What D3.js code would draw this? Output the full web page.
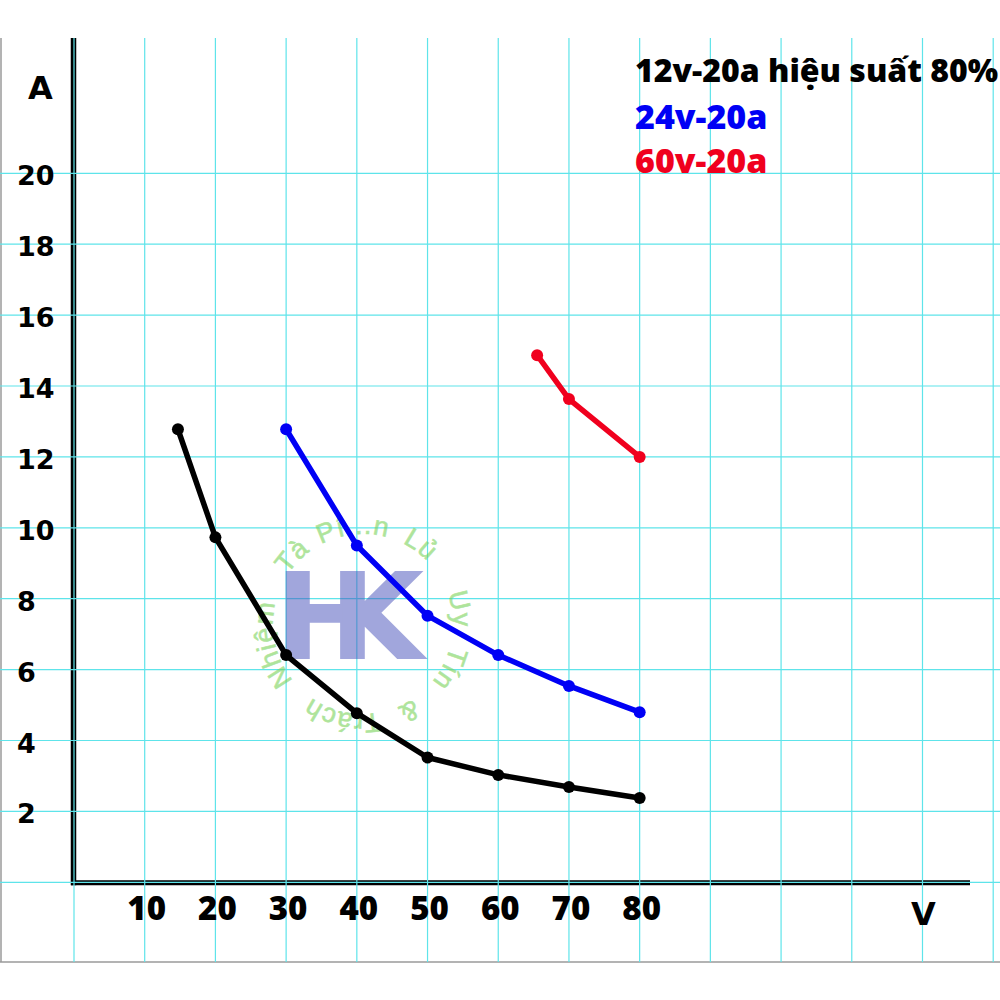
<!DOCTYPE html>
<html><head><meta charset="utf-8">
<script src="https://cdn.jsdelivr.net/npm/d3@7"></script>
<style>html,body{margin:0;padding:0;background:#fff;}svg{display:block;}</style>
</head><body>
<svg id="chart" width="1000" height="1000"></svg>
<script>
// ---- data ----
const xTicks = [10, 20, 30, 40, 50, 60, 70, 80];
const yTicks = [2, 4, 6, 8, 10, 12, 14, 16, 18, 20];
const xGrid = d3.range(0, 140, 10);
const seriesNames = ["12v-20a hiệu suất 80%", "24v-20a", "60v-20a"];
const seriesColors = ["#000000", "#0000f5", "#f0001e"];
const v12 = [14.7, 20, 30, 40, 50, 60, 70, 80];
const a12 = [12.78, 9.73, 6.41, 4.77, 3.52, 3.03, 2.69, 2.38];
const v24 = [30, 40, 50, 60, 70, 80];
const a24 = [12.78, 9.5, 7.52, 6.41, 5.54, 4.8];
const v60 = [65.5, 70, 80];
const a60 = [14.87, 13.63, 12.0];
const xLabel = "V", yLabel = "A";
const logoText = "HK";
const ringWords = [["Tà", -46], ["Pí...n", -6], ["Lủ", 36], ["Uy", 81], ["Tín", 117], ["&", 152], ["Trách", 192], ["Nhiệm", 257]];

const series = [[v12, a12], [v24, a24], [v60, a60]].map((s, i) => ({
  name: seriesNames[i], color: seriesColors[i],
  pts: s[0].map((v, j) => ({v, a: s[1][j]}))
}));

const svg = d3.select("#chart");
const x = d3.scaleLinear().domain([0, 130]).range([74, 993.2]);
const y = d3.scaleLinear().domain([0, 20]).range([882.3, 173.3]);
const gridTop = 38, gridBottom = 962;
const gridColor = "#5ee4ea";

// frame
svg.append("line").attr("x1", 1).attr("x2", 1).attr("y1", gridTop).attr("y2", gridBottom)
  .attr("stroke", "#9a9a9a").attr("stroke-width", 1.5);
svg.append("line").attr("x1", 0).attr("x2", 1000).attr("y1", gridBottom).attr("y2", gridBottom)
  .attr("stroke", "#9a9a9a").attr("stroke-width", 1.5);

// axes (thick black)
svg.append("line").attr("x1", x(0) - 0.5).attr("x2", x(0) - 0.5).attr("y1", gridTop).attr("y2", y(0) + 3)
  .attr("stroke", "#000").attr("stroke-width", 5.5);
svg.append("line").attr("x1", x(0) - 3).attr("x2", 970).attr("y1", y(0) + 0.5).attr("y2", y(0) + 0.5)
  .attr("stroke", "#000").attr("stroke-width", 5);

// grid
const g = svg.append("g");
g.selectAll("line.v").data(xGrid).join("line").attr("class", "v")
  .attr("x1", d => x(d)).attr("x2", d => x(d)).attr("y1", gridTop).attr("y2", gridBottom)
  .attr("stroke", gridColor).attr("stroke-width", 1.2);
g.selectAll("line.h").data([0].concat(yTicks)).join("line").attr("class", "h")
  .attr("x1", 0).attr("x2", 1000).attr("y1", d => y(d)).attr("y2", d => y(d))
  .attr("stroke", gridColor).attr("stroke-width", 1.2);

// watermark
const wm = svg.append("g");
const cx = 363, cy = 624, r = 90, startA = -70;
const rad = a => a * Math.PI / 180;
const p0 = [cx + r * Math.sin(rad(startA)), cy - r * Math.cos(rad(startA))];
const p1 = [cx - r * Math.sin(rad(startA)), cy + r * Math.cos(rad(startA))];
svg.append("defs").append("path").attr("id", "ring")
  .attr("d", `M${p0[0]},${p0[1]} A${r},${r} 0 1 1 ${p1[0]},${p1[1]} A${r},${r} 0 1 1 ${p0[0]},${p0[1]}`);
const circ = 2 * Math.PI * r;
const ring = wm.append("g").attr("opacity", 0.6);
ring.selectAll("text").data(ringWords).join("text")
  .attr("font-family", "'Liberation Sans', Arial, sans-serif").attr("font-size", 27)
  .attr("fill", "#7ad35a").attr("stroke", "#7ad35a").attr("stroke-width", 0.6).attr("letter-spacing", 1)
  .append("textPath").attr("href", "#ring").attr("text-anchor", "middle")
  .attr("startOffset", d => ((((d[1] - startA) % 360) + 360) % 360) / 360 * circ)
  .text(d => d[0]);
const logo = wm.append("g").attr("opacity", 0.5).attr("fill", "#4650ba").attr("stroke", "#4650ba").attr("stroke-width", 2)
  .attr("font-family", "'DejaVu Sans', sans-serif").attr("font-weight", "bold").attr("font-size", 117);
logo.append("text").attr("x", 276).attr("y", 658).text(logoText[0]);
logo.append("text").attr("x", 331).attr("y", 658).text(logoText[1]);

// tick labels
svg.append("g").selectAll("text").data(yTicks).join("text")
  .attr("x", 17).attr("y", d => y(d) + 12)
  .attr("font-family", "'DejaVu Sans', Verdana, sans-serif").attr("font-weight", "bold").attr("font-size", 27)
  .attr("fill", "#000").text(d => d);
svg.append("g").selectAll("text").data(xTicks).join("text")
  .attr("x", d => x(d) + 2).attr("y", 920).attr("text-anchor", "middle")
  .attr("font-family", "'Open Sans', sans-serif").attr("font-weight", 800).attr("font-size", 33)
  .attr("fill", "#000").text(d => d);
svg.append("text").attr("x", 40.5).attr("y", 99).attr("text-anchor", "middle")
  .attr("font-family", "'DejaVu Sans', Verdana, sans-serif").attr("font-weight", "bold").attr("font-size", 32)
  .text(yLabel);
svg.append("text").attr("x", 923.5).attr("y", 925).attr("text-anchor", "middle")
  .attr("font-family", "'DejaVu Sans', Verdana, sans-serif").attr("font-weight", "bold").attr("font-size", 32)
  .text(xLabel);

// series
const line = d3.line().x(d => x(d.v)).y(d => y(d.a));
const sg = svg.append("g");
series.forEach(s => {
  sg.append("path").attr("d", line(s.pts)).attr("fill", "none")
    .attr("stroke", s.color).attr("stroke-width", 5.5).attr("stroke-linejoin", "round");
  sg.selectAll(null).data(s.pts).join("circle")
    .attr("cx", d => x(d.v)).attr("cy", d => y(d.a)).attr("r", 6).attr("fill", s.color);
});

// legend
svg.append("g").selectAll("text").data(series).join("text")
  .attr("x", 635).attr("y", (d, i) => [82, 129, 173][i])
  .attr("font-family", "'Open Sans', sans-serif").attr("font-weight", 800)
  .attr("font-size", (d, i) => i === 0 ? 32 : 34)
  .attr("fill", d => d.color).text(d => d.name);
</script>
</body></html>
